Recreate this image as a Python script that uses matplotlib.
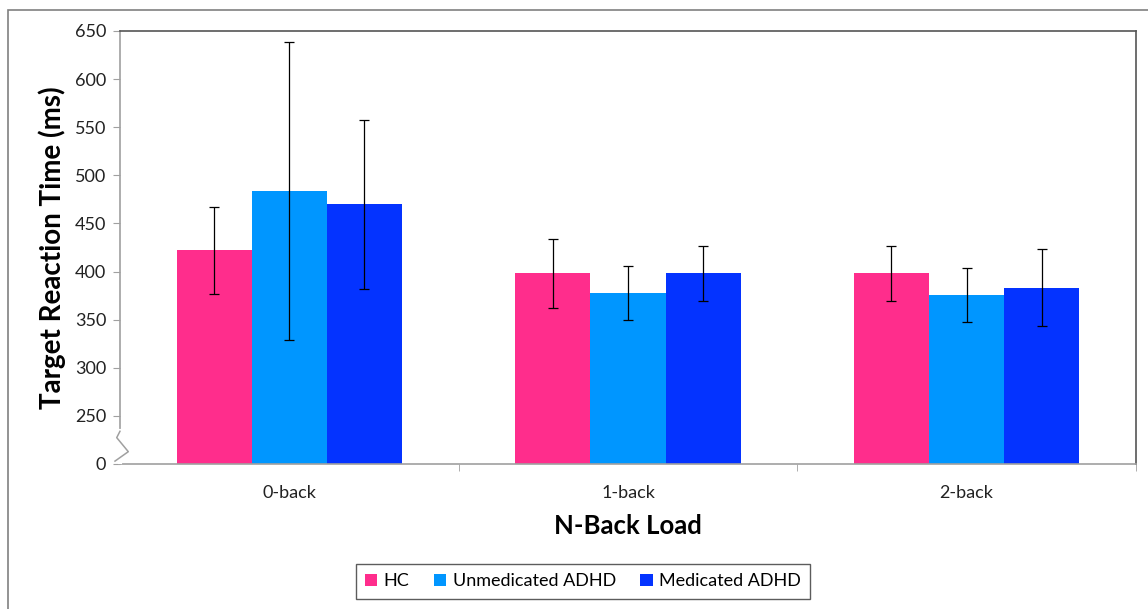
import matplotlib.pyplot as plt
from matplotlib.patches import Rectangle
import numpy as np

plt.rcParams['font.family'] = ['Lato', 'DejaVu Sans']

loads = ['0-back', '1-back', '2-back']
groups = ['HC', 'Unmedicated ADHD', 'Medicated ADHD']
colors = ['#FF2D8C', '#0096FF', '#0433FF']

# mean target RT (ms) and error per group, ordered by load
hc = [422, 398, 398]
hc_err = [45, 36, 29]
unmed = [484, 378, 376]
unmed_err = [155, 28, 28]
med = [470, 398, 383]
med_err = [88, 29, 40]

yticks = [250, 300, 350, 400, 450, 500, 550, 600, 650]

fig = plt.figure(figsize=(11.48, 6.09), dpi=100)
ax = fig.add_axes([0.1045, 0.2381, 0.8850, 0.7110])

x = np.arange(len(loads))
w = 0.222
for i, (vals, errs) in enumerate([(hc, hc_err), (unmed, unmed_err), (med, med_err)]):
    ax.bar(x + (i - 1) * w, vals, w, color=colors[i], label=groups[i], zorder=2)
    ax.errorbar(x + (i - 1) * w, vals, yerr=errs, fmt='none', ecolor='black',
                elinewidth=0.9, capsize=3.3, capthick=0.9, zorder=3)

# broken y axis: the bottom step stands for 0
ax.set_ylim(200, 650)
ax.set_yticks([200] + yticks)
ax.set_yticklabels(['0'] + [str(t) for t in yticks])
ax.set_xlim(-0.5, 2.5)
ax.set_xticks(x)
ax.set_xticklabels(loads)
ax.set_xticks([0.5, 1.5, 2.5], minor=True)
ax.tick_params(axis='x', which='major', length=0, pad=15, labelsize=13, labelcolor='#222222')
ax.tick_params(axis='x', which='minor', length=5, color='#a0a0a0')
ax.tick_params(axis='y', length=5, color='#a0a0a0', labelsize=13, labelcolor='#222222', pad=5)

for side in ['left', 'bottom']:
    ax.spines[side].set_color('#a0a0a0')
    ax.spines[side].set_linewidth(1.2)
for side in ['top', 'right']:
    ax.spines[side].set_color('#555555')
    ax.spines[side].set_linewidth(1.2)

# zigzag break mark on the y axis
yax = ax.get_yaxis_transform()
ax.plot([0, 0], [202.5, 234], transform=yax, color='white', lw=3,
        clip_on=False, zorder=3.5)
ax.plot([0, -0.0032, 0.0082, -0.0049], [234, 227.4, 212.8, 203],
        transform=yax, color='#a0a0a0', lw=1.1, clip_on=False, zorder=4)

fig.text(52 / 1148, 0.5935, 'Target Reaction Time (ms)', rotation=90,
         ha='center', va='center', fontsize=20, fontweight='bold')
fig.text(628 / 1148, 0.1370, 'N-Back Load', ha='center', va='center',
         fontsize=18.5, fontweight='bold')

leg = fig.legend(loc='center', bbox_to_anchor=(0.5078, 0.0452), ncol=3,
                 fontsize=13, frameon=True, fancybox=False, handlelength=0.7,
                 handleheight=0.7, handletextpad=0.35, columnspacing=1.35,
                 borderpad=0.5)
leg.get_frame().set_edgecolor('#333333')
leg.get_frame().set_linewidth(1.0)

# outer chart border
fig.patches.append(Rectangle((8 / 1148, -0.1), 1.2, 0.1 + (609 - 10) / 609,
                             transform=fig.transFigure, fill=False,
                             edgecolor='#808080', lw=1.2))

fig.savefig('out.png', dpi=100)
